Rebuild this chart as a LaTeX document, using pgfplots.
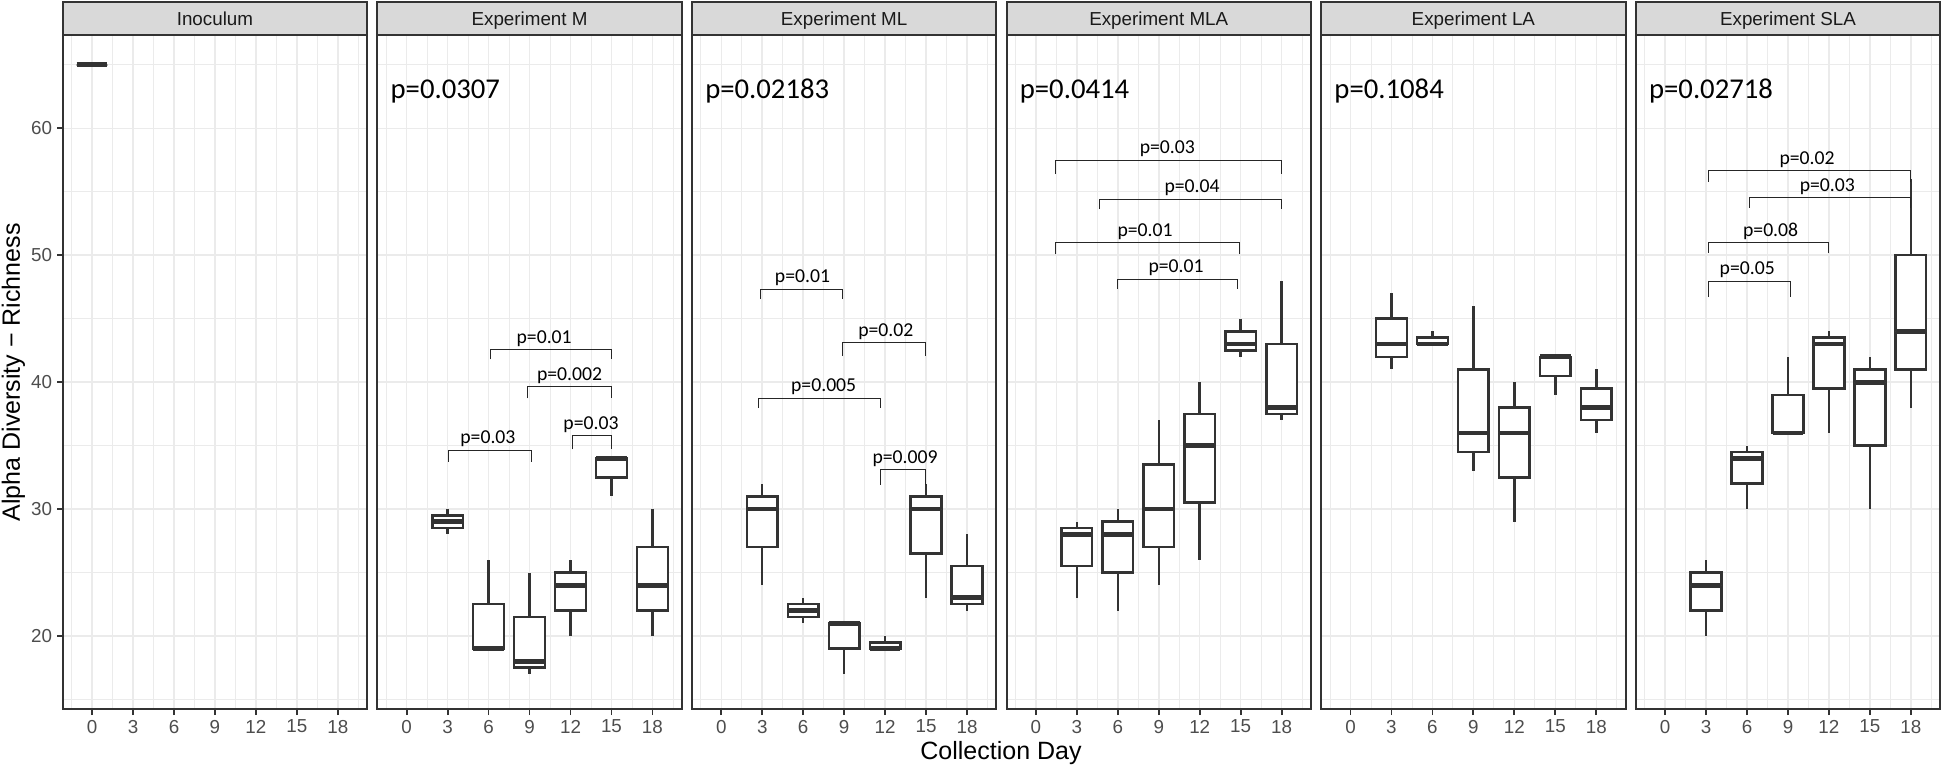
\documentclass[border=0pt]{standalone}
\usepackage{fontspec}
\setmainfont{Liberation Sans}
\newfontfamily\carl{Carlito}
\usepackage{pgfplots}
\pgfplotsset{compat=1.18}
\usepgfplotslibrary{statistics}

\definecolor{grey10}{HTML}{1A1A1A}
\definecolor{grey20}{HTML}{333333}
\definecolor{grey30}{HTML}{4D4D4D}
\definecolor{grey85}{HTML}{D9D9D9}
\definecolor{grey92}{HTML}{EBEBEB}

\pgfplotsset{
  panel/.style={
    anchor=south west, scale only axis, width=152.25pt, height=337pt,
    xmin=-2.15, xmax=20.15, ymin=14.22, ymax=67.33,
    xtick={0,3,...,18}, minor xtick={-1.5,1.5,...,19.5},
    ytick={20,30,...,60}, minor ytick={15,25,...,65},
    grid=both,
    major grid style={color=grey92, line width=0.75pt},
    minor grid style={color=grey92, line width=0.4pt},
    axis line style={draw=grey20, line width=1pt},
    tick pos=left, tick align=outside,
    major tick length=2.85pt, minor tick length=0pt,
    tick style={grey20, line width=0.9pt},
    tick label style={font=\fontsize{9.4}{11}\selectfont, text=grey30},
    xticklabel style={inner sep=0pt, anchor=north, yshift=-2.3pt},
    yticklabel style={inner sep=0pt, anchor=east, xshift=-2.3pt},
    /pgf/number format/assume math mode=true,
    boxplot/draw direction=y,
    boxplot/box extend=2.25, boxplot/whisker extend=0,
    boxplot/every median/.style={line width=2.4pt},
  },
  noy/.style={yticklabels={}, ytick style={draw=none}},
}

% day, lower whisker, lower quartile, median, upper quartile, upper whisker
\newcommand{\bx}[6]{\addplot[draw=grey20, fill=white, line width=1.25pt,
  boxplot prepared={draw position=#1, lower whisker=#2, lower quartile=#3,
  median=#4, upper quartile=#5, upper whisker=#6}] coordinates {};}
% x1, x2, bracket height, tip end, label, label x
\newcommand{\br}[6]{\addplot[black!85, line width=0.5pt] coordinates {(#1,#4) (#1,#3) (#2,#3) (#2,#4)};
  \node[anchor=base, inner sep=0pt, font=\carl\fontsize{9.85}{11}\selectfont] at (axis cs:#6,#3+0.5) {#5};}
\newcommand{\ptest}[1]{\node[anchor=base west, inner sep=0pt, font=\carl\fontsize{14.35}{16}\selectfont] at (axis cs:-1.2,62.36) {#1};}

\begin{document}
\begin{tikzpicture}
\path[use as bounding box] (0,0) rectangle (973pt,384pt);

% Inoculum
\begin{axis}[panel, at={(31.35pt,29.35pt)}]
  \bx{0}{65}{65}{65}{65}{65}
\end{axis}

% Experiment M
\begin{axis}[panel, noy, at={(188.65pt,29.35pt)}]
  \bx{3}{28}{28.5}{29}{29.5}{30}
  \bx{6}{19}{19}{19}{22.5}{26}
  \bx{9}{17}{17.5}{18}{21.5}{25}
  \bx{12}{20}{22}{24}{25}{26}
  \bx{15}{31}{32.5}{34}{34}{34}
  \bx{18}{20}{22}{24}{27}{30}
  \br{3.07}{9.17}{34.65}{33.73}{p=0.03}{5.95}
  \br{6.15}{15}{42.58}{41.8}{p=0.01}{10.07}
  \br{8.88}{15}{39.64}{38.72}{p=0.002}{11.93}
  \br{12.17}{15}{35.78}{34.7}{p=0.03}{13.5}
  \ptest{p=0.0307}
\end{axis}

% Experiment ML
\begin{axis}[panel, noy, at={(345.95pt,29.35pt)}]
  \bx{3}{24}{27}{30}{31}{32}
  \bx{6}{21}{21.5}{22}{22.5}{23}
  \bx{9}{17}{19}{21}{21}{21}
  \bx{12}{19}{19}{19}{19.5}{20}
  \bx{15}{23}{26.5}{30}{31}{32}
  \bx{18}{22}{22.5}{23}{25.5}{28}
  \br{2.85}{8.85}{47.32}{46.58}{p=0.01}{5.95}
  \br{8.85}{14.95}{43.13}{42.05}{p=0.02}{12.05}
  \br{2.71}{11.66}{38.74}{37.95}{p=0.005}{7.5}
  \br{11.66}{14.93}{33.08}{31.9}{p=0.009}{13.46}
  \ptest{p=0.02183}
\end{axis}

% Experiment MLA
\begin{axis}[panel, noy, at={(503.25pt,29.35pt)}]
  \bx{3}{23}{25.5}{28}{28.5}{29}
  \bx{6}{22}{25}{28}{29}{30}
  \bx{9}{24}{27}{30}{33.5}{37}
  \bx{12}{26}{30.5}{35}{37.5}{40}
  \bx{15}{42}{42.5}{43}{44}{45}
  \bx{18}{37}{37.5}{38}{43}{48}
  \br{1.46}{18.02}{57.5}{56.39}{p=0.03}{9.63}
  \br{4.63}{18.02}{54.42}{53.63}{p=0.04}{11.44}
  \br{1.46}{14.9}{51.0}{50.08}{p=0.01}{8.0}
  \br{5.98}{14.76}{48.1}{47.37}{p=0.01}{10.27}
  \ptest{p=0.0414}
\end{axis}

% Experiment LA
\begin{axis}[panel, noy, at={(660.55pt,29.35pt)}]
  \bx{3}{41}{42}{43}{45}{47}
  \bx{6}{43}{43}{43}{43.5}{44}
  \bx{9}{33}{34.5}{36}{41}{46}
  \bx{12}{29}{32.5}{36}{38}{40}
  \bx{15}{39}{40.5}{42}{42}{42}
  \bx{18}{36}{37}{38}{39.5}{41}
  \ptest{p=0.1084}
\end{axis}

% Experiment SLA
\begin{axis}[panel, noy, at={(817.85pt,29.35pt)}]
  \bx{3}{20}{22}{24}{25}{26}
  \bx{6}{30}{32}{34}{34.5}{35}
  \bx{9}{36}{36}{36}{39}{42}
  \bx{12}{36}{39.5}{43}{43.5}{44}
  \bx{15}{30}{35}{40}{41}{42}
  \bx{18}{38}{41}{44}{50}{56}
  \br{3.15}{18}{56.65}{55.78}{p=0.02}{10.4}
  \br{6.17}{18}{54.55}{53.75}{p=0.03}{11.88}
  \br{3.15}{12}{51.0}{50.2}{p=0.08}{7.73}
  \br{3.15}{9.15}{47.96}{46.7}{p=0.05}{6.02}
  \ptest{p=0.02718}
\end{axis}

% facet strips
\foreach \i/\t in {0/Inoculum,1/Experiment M,2/Experiment ML,3/Experiment MLA,4/Experiment LA,5/Experiment SLA}{
  \draw[fill=grey85, draw=grey20, line width=1pt] ({31.35pt+\i*157.3pt},366.35pt) rectangle ++(152.25pt,16.8pt);
  \node[anchor=base, inner sep=0pt, text=grey10, font=\fontsize{9.4}{11}\selectfont] at ({107.475pt+\i*157.3pt},371.3pt) {\t};
}

\node[rotate=90, anchor=base, inner sep=0pt, font=\fontsize{12.5}{14}\selectfont] at (10pt,197.85pt) {Alpha Diversity − Richness};
\node[anchor=base, inner sep=0pt, font=\fontsize{12.5}{14}\selectfont] at (500.5pt,4.5pt) {Collection Day};
\end{tikzpicture}
\end{document}
